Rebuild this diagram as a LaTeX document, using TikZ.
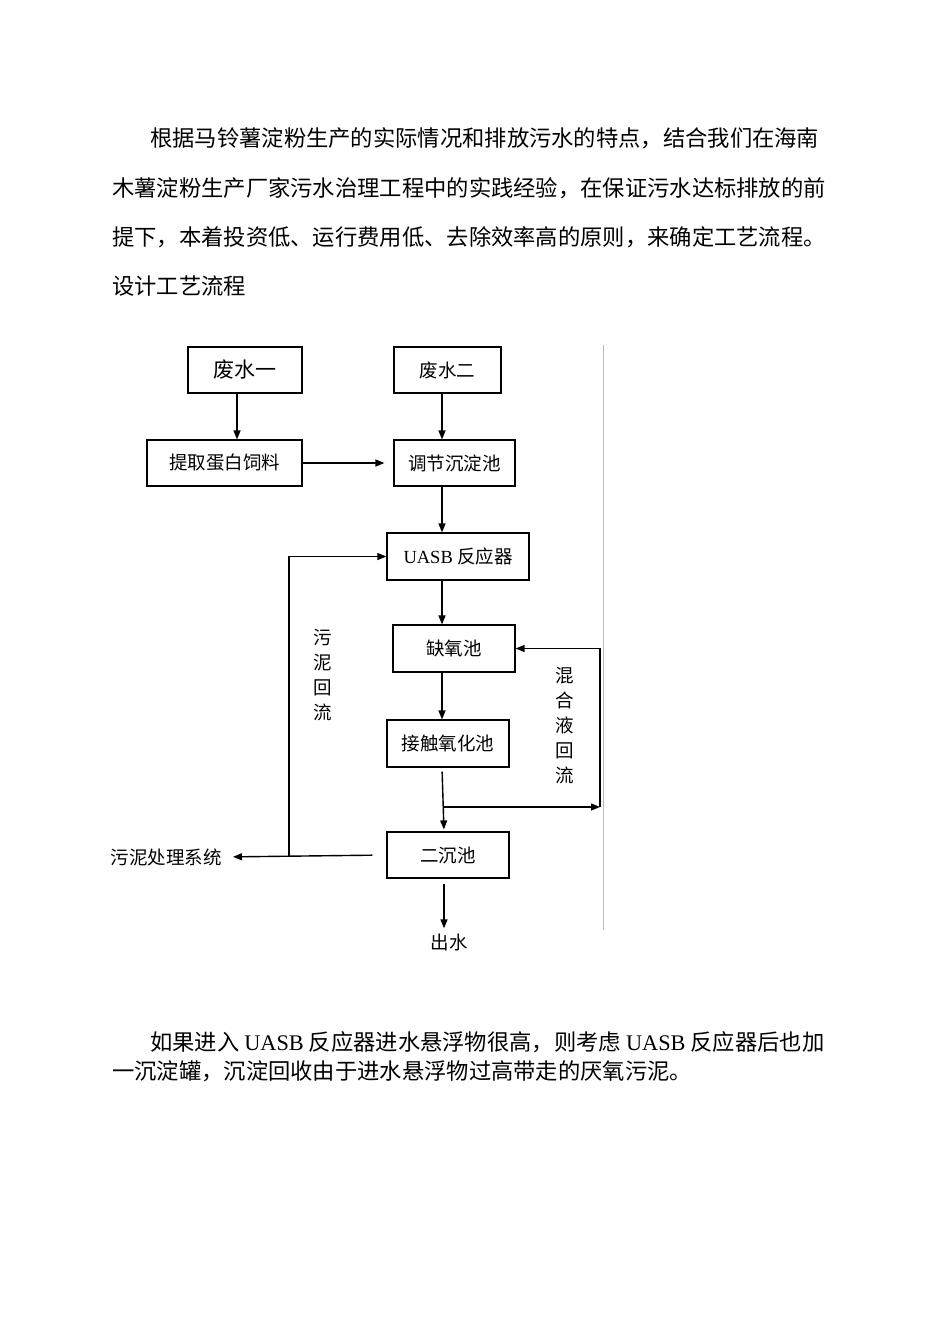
\documentclass[tikz,border=0pt]{standalone}
\usepackage{fontspec}
\setmainfont{Liberation Serif}
\newfontfamily\cjk{Noto Sans CJK SC}
\usetikzlibrary{positioning,arrows.meta,calc}
\newcommand\latn[1]{{\rmfamily #1}}

\begin{document}
\begin{tikzpicture}[x=1pt, y=-1pt,
    wt block/.style={rectangle, draw, line width=1.2pt, inner sep=0pt, minimum height=46pt, font=\cjk\fontsize{18.5}{22}\selectfont},
    wt arrow/.style={-{Triangle[length=9pt, width=7pt]}, line width=1.4pt},
    wt label/.style={inner sep=0pt, align=center, font=\cjk\fontsize{18.5}{25}\selectfont},
    wt para/.style={anchor=base west, inner sep=0pt, font=\cjk\fontsize{22.3}{26}\selectfont}]

    \fill [white] (0,0) rectangle (950,1344);
    \useasboundingbox (0,0) rectangle (950,1344);

    % text above the chart
    \node [wt para] (line1) at (150,146) {根据马铃薯淀粉生产的实际情况和排放污水的特点，结合我们在海南};
    \node [wt para] (line2) at (112,196) {木薯淀粉生产厂家污水治理工程中的实践经验，在保证污水达标排放的前};
    \node [wt para] (line3) at (112,245) {提下，本着投资低、运行费用低、去除效率高的原则，来确定工艺流程。};
    \node [wt para] (line4) at (112,294) {设计工艺流程};

    % process chart
    \node [wt block, minimum width=114pt, font=\cjk\fontsize{21}{24}\selectfont] (ws1) at (245,370) {废水一};
    \node [wt block, minimum width=107pt] (ws2) at (447.5,370) {废水二};
    \node [wt block, minimum width=155pt] (feed) at (224.5,463) {提取蛋白饲料};
    \node [wt block, minimum width=121pt] (adj) at (454.5,463) {调节沉淀池};
    \node [wt block, minimum width=142pt, minimum height=47pt] (uasb) at (458,556.5) {\latn{UASB} 反应器};
    \node [wt block, minimum width=122pt, minimum height=47pt] (anox) at (454,648.5) {缺氧池};
    \node [wt block, minimum width=122pt, minimum height=47pt] (cont) at (448,743.5) {接触氧化池};
    \node [wt block, minimum width=122pt] (sed) at (448,855) {二沉池};

    \node [wt label, anchor=east] (sludge) at (222,857) {污泥处理系统};
    \node [wt label] (out) at (449,942) {出水};
    \node [wt label] (rsludge) at (323,675.5) {污\\泥\\回\\流};
    \node [wt label] (rmix) at (565,725.5) {混\\合\\液\\回\\流};

    \coordinate (lspine) at (237,0);
    \coordinate (spine) at (442,0);
    \coordinate (split) at (444,807);
    \coordinate (rcorner) at (600,807);
    \coordinate (sjoin) at (289,857);

    \draw [wt arrow] (ws1.south -| lspine) -- (feed.north -| lspine);
    \draw [wt arrow] (ws2.south -| spine) -- (adj.north -| spine);
    \draw [wt arrow, shorten >=9pt] (feed.east) -- (adj.west);
    \draw [wt arrow] (adj.south -| spine) -- (uasb.north -| spine);
    \draw [wt arrow] (uasb.south -| spine) -- (anox.north -| spine);
    \draw [wt arrow] (anox.south -| spine) -- (cont.north -| spine);
    \draw [wt arrow, shorten <=4pt, shorten >=2pt] (cont.south -| spine) -- (sed.north -| split);
    \draw [wt arrow] (split) -- (rcorner);
    \draw [wt arrow] (rcorner) |- (anox.east);
    \draw [wt arrow, shorten <=14pt, shorten >=11pt] (sed.west) -- (sludge.east);
    \draw [wt arrow] (sjoin) |- (uasb.west);
    \draw [wt arrow, shorten <=5pt, shorten >=5pt] (sed.south -| split) -- (out.north -| split);

    % divider
    \draw [gray!55, line width=1pt] (603,345) -- (603,930);

    % text below the chart
    \node [wt para] (line5) at (150,1050) {如果进入 \latn{UASB} 反应器进水悬浮物很高，则考虑 \latn{UASB} 反应器后也加};
    \node [wt para] (line6) at (112,1079) {一沉淀罐，沉淀回收由于进水悬浮物过高带走的厌氧污泥。};
\end{tikzpicture}
\end{document}
